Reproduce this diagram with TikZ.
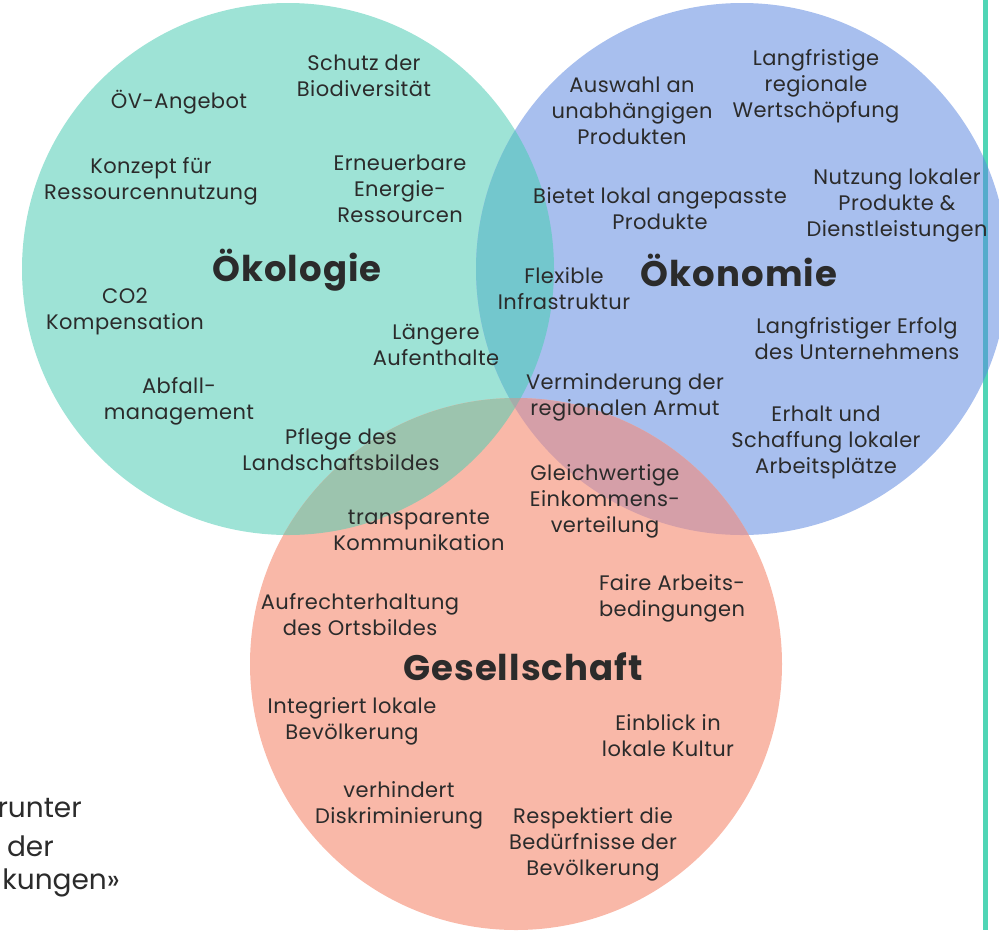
\documentclass[tikz,border=0pt]{standalone}
\usepackage{fontspec}
\setmainfont{Poppins}
\newfontfamily\itemfont[LetterSpace=2]{Poppins}
\newfontfamily\titlefont[LetterSpace=3]{Poppins}
\definecolor{cGreen}{HTML}{9EE3D6}
\definecolor{cBlue}{HTML}{A8BFEE}
\definecolor{cRed}{HTML}{F9B8A8}
\definecolor{cGB}{HTML}{73C7CD}
\definecolor{cGR}{HTML}{9CC4AE}
\definecolor{cBR}{HTML}{D59FA8}
\definecolor{cGBR}{HTML}{A3ADAA}
\definecolor{cTxt}{HTML}{2B2B2B}
\definecolor{cLine}{HTML}{50D5B5}
\definecolor{cLineB}{HTML}{55ABCB}
\begin{document}
\begin{tikzpicture}[x=1pt,y=-1pt,
  item/.style={align=center,text=cTxt,inner sep=0pt,font=\itemfont\fontsize{21}{26}\selectfont},
  title/.style={text=cTxt,inner sep=0pt,font=\titlefont\fontsize{35.5}{40}\selectfont\bfseries},
  side/.style={text=cTxt,inner sep=0pt,font=\fontsize{28}{38}\selectfont,anchor=east}]
\useasboundingbox (0,0) rectangle (999,930);
\def\R{266}
\coordinate (cG) at (288,269);
\coordinate (cB) at (742,269);
\coordinate (cS) at (516,664);
% base circles
\fill[cGreen] (cG) circle[radius=\R];
\fill[cBlue] (cB) circle[radius=\R];
\fill[cRed] (cS) circle[radius=\R];
% overlaps
\begin{scope}\clip (cG) circle[radius=\R]; \fill[cGB] (cB) circle[radius=\R];\end{scope}
\begin{scope}\clip (cG) circle[radius=\R]; \fill[cGR] (cS) circle[radius=\R];\end{scope}
\begin{scope}\clip (cB) circle[radius=\R]; \fill[cBR] (cS) circle[radius=\R];\end{scope}
\begin{scope}\clip (cG) circle[radius=\R]; \clip (cB) circle[radius=\R]; \fill[cGBR] (cS) circle[radius=\R];\end{scope}
% vertical rule
\coordinate (lt) at (985.5,0);
\coordinate (lb) at (985.5,930);
\draw[cLine,line width=4.5] (lt) -- (lb);
\begin{scope}\clip (cB) circle[radius=\R]; \draw[cLineB,line width=4.5] (lt) -- (lb);\end{scope}
% titles
\node[title] (tOek) at (297,270) {Ökologie};
\node[title] (tOeko) at (739,270) {Ökonomie};
\node[title] (tGes) at (523,667) {Gesellschaft};
% Oekologie items
\node[item] (a1) at (364,76) {Schutz der\\Biodiversität};
\node[item] (a2) at (179,102) {ÖV-Angebot};
\node[item] (a3) at (151,181) {Konzept für\\Ressourcennutzung};
\node[item] (a4) at (400,189) {Erneuerbare\\Energie-\\Ressourcen};
\node[item] (a5) at (125,311) {CO2\\Kompensation};
\node[item] (a6) at (436,345) {Längere\\Aufenthalte};
\node[item] (a7) at (179,401) {Abfall-\\management};
\node[item] (a8) at (341,450) {Pflege des\\Landschaftsbildes};
% Oekonomie items
\node[item] (b1) at (632,111) {Auswahl an\\unabhängigen\\Produkten};
\node[item] (b2) at (816,86) {Langfristige\\regionale\\Wertschöpfung};
\node[item] (b3) at (660,209) {Bietet lokal angepasste\\Produkte};
\node[item] (b4) at (897,206) {Nutzung lokaler\\Produkte \&\\Dienstleistungen};
\node[item] (b5) at (564,289) {Flexible\\Infrastruktur};
\node[item] (b6) at (857,339) {Langfristiger Erfolg\\des Unternehmens};
\node[item] (b7) at (625,397) {Verminderung der\\regionalen Armut};
\node[item] (b8) at (826,442) {Erhalt und\\Schaffung lokaler\\Arbeitsplätze};
% Gesellschaft items
\node[item] (c1) at (605,501) {Gleichwertige\\Einkommens-\\verteilung};
\node[item] (c2) at (419,530) {transparente\\Kommunikation};
\node[item] (c3) at (672,598) {Faire Arbeits-\\bedingungen};
\node[item] (c4) at (360,615) {Aufrechterhaltung\\des Ortsbildes};
\node[item] (c5) at (352,721) {Integriert lokale\\Bevölkerung};
\node[item] (c6) at (668,736) {Einblick in\\lokale Kultur};
\node[item] (c7) at (399,805) {verhindert\\Diskriminierung};
\node[item] (c8) at (593,844) {Respektiert die\\Bedürfnisse der\\Bevölkerung};
% cut-off side text
\node[side] (s1) at (82,808) {runter};
\node[side] (s2) at (54,846) {der};
\node[side] (s3) at (120,883) {kungen»};
\end{tikzpicture}
\end{document}
